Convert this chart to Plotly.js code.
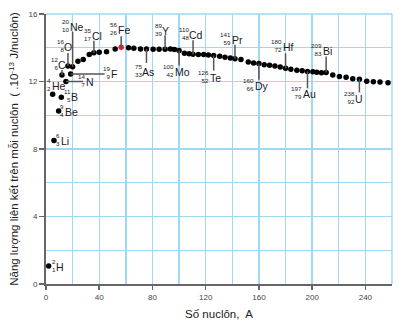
<!DOCTYPE html>
<html><head><meta charset="utf-8">
<script src="https://cdn.plot.ly/plotly-3.0.1.min.js"></script>
<style>html,body{margin:0;padding:0;background:#fff;} #chart{width:412px;height:328px;}</style>
</head><body><div id="chart"></div>
<script>
// ---- data ----
const massNumber = [2, 5, 6, 9.5, 11.5, 12, 15, 16.5, 18.5, 20, 24, 28, 32.5, 36, 40, 45.5, 52, 56.5, 62, 66, 71, 75.5, 80.5, 85, 89.5, 93.5, 96.5, 100, 104, 107.5, 110.5, 114.5, 118.5, 122, 126, 130.5, 134.5, 138.5, 142, 146.5, 152, 156, 160, 164, 168, 172, 176, 180, 184, 188.5, 192.5, 196.5, 200.5, 203.5, 207, 210.5, 215.5, 220.5, 225.5, 230.5, 235.5, 241, 246, 251, 257];
const bindingEnergy = [1.07, 11.25, 8.5, 10.25, 11.06, 12.38, 12.0, 12.92, 12.44, 12.88, 13.2, 13.3, 13.6, 13.7, 13.73, 13.77, 13.93, 14.03, 14.0, 13.97, 13.93, 13.93, 13.91, 13.91, 13.91, 13.92, 13.9, 13.83, 13.67, 13.65, 13.62, 13.6, 13.6, 13.57, 13.54, 13.5, 13.43, 13.39, 13.35, 13.31, 13.16, 13.1, 13.06, 13.0, 12.96, 12.92, 12.86, 12.78, 12.72, 12.66, 12.64, 12.6, 12.58, 12.55, 12.52, 12.53, 12.39, 12.3, 12.25, 12.17, 12.13, 12.01, 11.99, 11.97, 11.93];
const ironIndex = 17;

// labelled nuclides: which dot, symbol, mass number A, atomic number Z
const labelIndex  = [0, 1, 2, 3, 4, 5, 6, 7, 8, 9, 13, 17, 21, 24, 27, 30, 34, 38, 42, 47, 51, 55, 60];
const labelSymbol = ['H','He','Li','Be','B','C','N','O','F','Ne','Cl','Fe','As','Y','Mo','Cd','Te','Pr','Dy','Hf','Au','Bi','U'];
const labelMass   = [2, 4, 6, 9, 11, 12, 14, 16, 19, 20, 35, 56, 75, 89, 100, 110, 126, 141, 160, 180, 197, 209, 238];
const labelZ      = [1, 2, 3, 4, 5, 6, 7, 8, 9, 10, 17, 26, 33, 39, 42, 48, 52, 59, 66, 72, 79, 83, 92];

// ---- label placement (pixels, relative to the dot) ----
const labelDx   = [7.5, -1, 7, 6, 10, -3.5, 20, -3.5, 40, -3, -2, -3.5, -4, -3, -4.5, -4, -4, -3, -4, -3, -5, -3.5, -4];
const labelDy   = [1, -8, 0.5, 1, 0, -10, 0.5, -19, -0.5, -39.5, -17, -17, 23, -18, 21, -19.5, 22, -19, 22, -21, 23, -22, 20];
const leaderDir = ['', '', '', '', '', 'up', 'right', 'up', 'right', 'up', 'up', 'up', 'down', 'up', 'down', 'up', 'down', 'up', 'down', 'up', 'down', 'up', 'down'];
const leaderLen = [0, 0, 0, 0, 0, 5, 17, 13, 34, 35, 12, 11, 14, 14, 15, 14, 15, 14, 16, 15, 17, 16, 13];

const gridCol = '#9fd8f3';
const axisCol = '#666666';
const xRange = [0, 260], yRange = [0, 16];
const W = 412, H = 328, M = {l:46, r:20, t:14, b:44};
const pxPerX = (W - M.l - M.r) / (xRange[1] - xRange[0]);
const pxPerY = (H - M.t - M.b) / (yRange[1] - yRange[0]);

const colors = massNumber.map((_, i) => i === ironIndex ? '#e8202a' : '#000000');

const trace = {
  type: 'scatter', mode: 'markers',
  x: massNumber, y: bindingEnergy,
  marker: {size: 5.5, color: colors},
  hoverinfo: 'x+y', cliponaxis: false
};

const shapes = [
  {type:'line', xref:'paper', yref:'paper', x0:0, x1:1, y0:1, y1:1, line:{color:gridCol, width:1.4}},
  {type:'line', xref:'paper', yref:'paper', x0:1, x1:1, y0:0, y1:1, line:{color:gridCol, width:1.4}}
];
const annotations = [];

labelIndex.forEach((idx, k) => {
  const x = massNumber[idx], y = bindingEnergy[idx];
  const dir = leaderDir[k], len = leaderLen[k];
  if (dir) {
    let x1 = x, y1 = y;
    if (dir === 'up') y1 = y + len / pxPerY;
    else if (dir === 'down') y1 = y - len / pxPerY;
    else if (dir === 'right') x1 = x + len / pxPerX;
    shapes.push({type:'line', xref:'x', yref:'y', x0:x, y0:y, x1:x1, y1:y1,
      line:{color:'#555555', width:1.5}, layer:'above'});
  }
  annotations.push({x:x, y:y, xref:'x', yref:'y', showarrow:false,
    text: labelSymbol[k], xanchor:'left', yanchor:'middle',
    xshift: labelDx[k] - 1, yshift: -labelDy[k],
    font:{size:10.5, color:'#1a1a1a'}, borderpad:0});
  annotations.push({x:x, y:y, xref:'x', yref:'y', showarrow:false,
    text: labelMass[k] + '<br>' + labelZ[k], xanchor:'right', yanchor:'middle', align:'right',
    xshift: labelDx[k] + 0.5, yshift: -labelDy[k] + 1.5,
    font:{size:6.2, color:'#1a1a1a'}, borderpad:0});
});

const layout = {
  width: W, height: H,
  margin: {l:M.l, r:M.r, t:M.t, b:M.b, pad:0},
  paper_bgcolor:'#ffffff', plot_bgcolor:'#ffffff',
  font: {family:'"Liberation Sans", Arial, sans-serif', color:'#222'},
  showlegend: false,
  xaxis: {
    range:xRange, tick0:0, dtick:40, fixedrange:true,
    showgrid:true, gridcolor:gridCol, gridwidth:1.4,
    minor:{dtick:20, showgrid:true, gridcolor:gridCol, gridwidth:1.4, ticks:''},
    showline:true, linecolor:axisCol, linewidth:2, zeroline:false,
    ticks:'outside', ticklen:4, tickwidth:1.5, tickcolor:axisCol,
    tickfont:{size:8, color:'#444'},
    title:{text:'Số nuclôn,  A', font:{size:11.5, color:'#222'}, standoff:9}
  },
  yaxis: {
    range:yRange, tick0:0, dtick:4, fixedrange:true,
    showgrid:true, gridcolor:gridCol, gridwidth:1.4,
    minor:{dtick:2, showgrid:true, gridcolor:gridCol, gridwidth:1.4, ticks:''},
    showline:true, linecolor:axisCol, linewidth:2, zeroline:false,
    ticks:'outside', ticklen:5, tickwidth:1.5, tickcolor:axisCol,
    tickfont:{size:8, color:'#444'},
    title:{text:'Năng lượng liên kết trên mỗi nuclôn  ( .10<sup>-13</sup> J/nuclôn)', font:{size:11.5, color:'#222'}, standoff:7}
  },
  shapes: shapes,
  annotations: annotations
};

Plotly.newPlot('chart', [trace], layout, {displayModeBar:false, staticPlot:true});
</script>
</body></html>
